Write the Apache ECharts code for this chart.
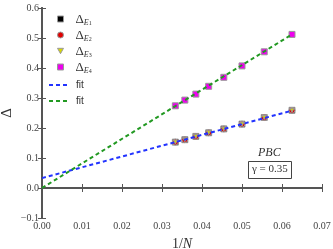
<!DOCTYPE html>
<html><head><meta charset="utf-8">
<script src="https://cdn.jsdelivr.net/npm/echarts@6/dist/echarts.min.js"></script>
<style>html,body{margin:0;padding:0;background:#fff}#c{width:333px;height:249px}</style>
</head><body><div id="c"></div>
<script>
const invN = [1/30, 1/28, 1/26, 1/24, 1/22, 1/20, 1/18, 1/16];
const dE1 = [0.153, 0.161, 0.172, 0.184, 0.197, 0.213, 0.235, 0.259];
const dE2 = [0.153, 0.161, 0.172, 0.184, 0.197, 0.213, 0.235, 0.259];
const dE3 = [0.153, 0.161, 0.172, 0.184, 0.197, 0.213, 0.235, 0.259];
const dE4 = [0.274, 0.293, 0.313, 0.339, 0.369, 0.407, 0.454, 0.512];
const fitX = [0, 0.0625];
const fitBlue = [0.033, 0.258];
const fitGreen = [0.0, 0.512];
const xTicks = [0.00, 0.01, 0.02, 0.03, 0.04, 0.05, 0.06, 0.07];
const yTicks = [-0.1, 0.0, 0.1, 0.2, 0.3, 0.4, 0.5, 0.6];

const serif = 'Liberation Serif';
const pair = (xs, ys) => xs.map((x, i) => [x, ys[i]]);
const axisCol = '#555';
const colE1 = '#000000', colE2 = '#e00000', colE3 = '#d8d800', colE4 = '#ee00ee';
const scat = (name, data, symbol, color, extra) => Object.assign({
  name, type: 'scatter', data: pair(invN, data), symbol, symbolSize: 6,
  itemStyle: {color, borderColor: '#999', borderWidth: 1, opacity: 1}, z: 3
}, extra || {});
const fitLine = (name, ys, color) => ({
  name, type: 'line', data: pair(fitX, ys), showSymbol: false, symbol: 'none',
  lineStyle: {color, width: 2, type: [4, 3]}, itemStyle: {color}, z: 5
});
const subIdx = {'ΔE1': '1', 'ΔE2': '2', 'ΔE3': '3', 'ΔE4': '4'};
const richTxt = {
  s: {width: 7},
  t: {width: 3},
  d: {fontFamily: serif, fontSize: 13, color: '#333', verticalAlign: 'bottom'},
  e: {fontFamily: serif, fontStyle: 'italic', fontSize: 8, color: '#333', padding: [7, 0, 0, 0], verticalAlign: 'bottom'},
  n: {fontFamily: serif, fontSize: 6, color: '#333', padding: [9, 0, 0, 0], verticalAlign: 'bottom'},
  f: {fontFamily: 'Liberation Sans', fontSize: 10, color: '#333'}
};
const markLegend = (name, icon, color, top, w, h) => ({
  orient: 'vertical', left: 57, top, itemWidth: w || 6, itemHeight: h || 6, padding: 0,
  data: [{name, icon, itemStyle: {color, borderColor: '#999', borderWidth: 1}}],
  formatter: n => '{s|}{d|Δ}{e|E}{n|' + subIdx[n] + '}',
  textStyle: {rich: richTxt}
});
const lineLegend = (name, top) => ({
  orient: 'vertical', left: 48, top, itemWidth: 19, itemHeight: 7, padding: 0,
  data: [{name, itemStyle: {opacity: 0}}],
  formatter: () => '{t|}{f|fit}',
  textStyle: {rich: richTxt}
});

const chart = echarts.init(document.getElementById('c'));
chart.setOption({
  animation: false,
  grid: {left: 42, right: 11, top: 8, bottom: 31, outerBoundsMode: 'none', containLabel: false},
  xAxis: [{
    type: 'value', min: 0, max: 0.07, interval: 0.01,
    name: '{a|1/}{b|N}', nameLocation: 'middle', nameGap: 19,
    nameTextStyle: {rich: {a: {fontFamily: serif, fontSize: 14, color: '#333'}, b: {fontFamily: serif, fontStyle: 'italic', fontSize: 14, color: '#333'}}},
    axisLine: {lineStyle: {color: axisCol, width: 2}},
    axisTick: {inside: true, length: 4, lineStyle: {color: axisCol}},
    axisLabel: {formatter: v => v.toFixed(2), fontFamily: serif, fontSize: 10, color: '#444', margin: 3},
    splitLine: {show: false}
  }, {
    type: 'value', position: 'top', min: 0, max: 0.07, interval: 0.01,
    axisLine: {show: true, lineStyle: {color: axisCol, width: 2}},
    axisTick: {inside: true, length: 4, lineStyle: {color: axisCol}},
    axisLabel: {show: false}, splitLine: {show: false}
  }],
  yAxis: [{
    type: 'value', min: -0.1, max: 0.6, interval: 0.1,
    name: 'Δ', nameLocation: 'middle', nameGap: 27, nameRotate: 90, nameMoveOverlap: false,
    nameTextStyle: {fontFamily: serif, fontSize: 15, color: '#333'},
    axisLine: {lineStyle: {color: axisCol, width: 2}},
    axisTick: {inside: true, length: 4, lineStyle: {color: axisCol}},
    axisLabel: {formatter: v => (v < 0 ? '\u2212' : '') + Math.abs(v).toFixed(1), fontFamily: serif, fontSize: 10, color: '#444', margin: 3},
    splitLine: {show: false}
  }, {
    type: 'value', position: 'right', min: -0.1, max: 0.6, interval: 0.1,
    axisLine: {show: true, lineStyle: {color: axisCol, width: 2}},
    axisTick: {inside: true, length: 4, lineStyle: {color: axisCol}},
    axisLabel: {show: false}, splitLine: {show: false}
  }],
  legend: [
    markLegend('ΔE1', 'rect', colE1, 13),
    markLegend('ΔE2', 'circle', colE2, 29),
    markLegend('ΔE3', 'path://M0,0 L10,0 L5,9 Z', colE3, 45),
    markLegend('ΔE4', 'rect', colE4, 61),
    lineLegend('fit', 79),
    lineLegend('fit ', 95)
  ],
  series: [
    scat('ΔE1', dE1, 'rect', colE1),
    scat('ΔE2', dE2, 'circle', colE2),
    scat('ΔE3', dE3, 'triangle', colE3, {symbolRotate: 180, symbolSize: 4}),
    scat('ΔE4', dE4, 'rect', colE4),
    fitLine('fit', fitBlue, '#2233ff'),
    fitLine('fit ', fitGreen, '#229922')
  ],
  graphic: [
    {type: 'text', left: 258, top: 147, style: {text: 'PBC', font: 'italic 12px "Liberation Serif"', fill: '#333'}},
    {type: 'rect', shape: {x: 248.5, y: 161.5, width: 43, height: 17}, style: {fill: '#fff', stroke: '#444', lineWidth: 1}},
    {type: 'text', left: 252, top: 164, style: {text: 'γ = 0.35', font: '11px "Liberation Serif"', fill: '#333'}}
  ]
});
</script></body></html>
